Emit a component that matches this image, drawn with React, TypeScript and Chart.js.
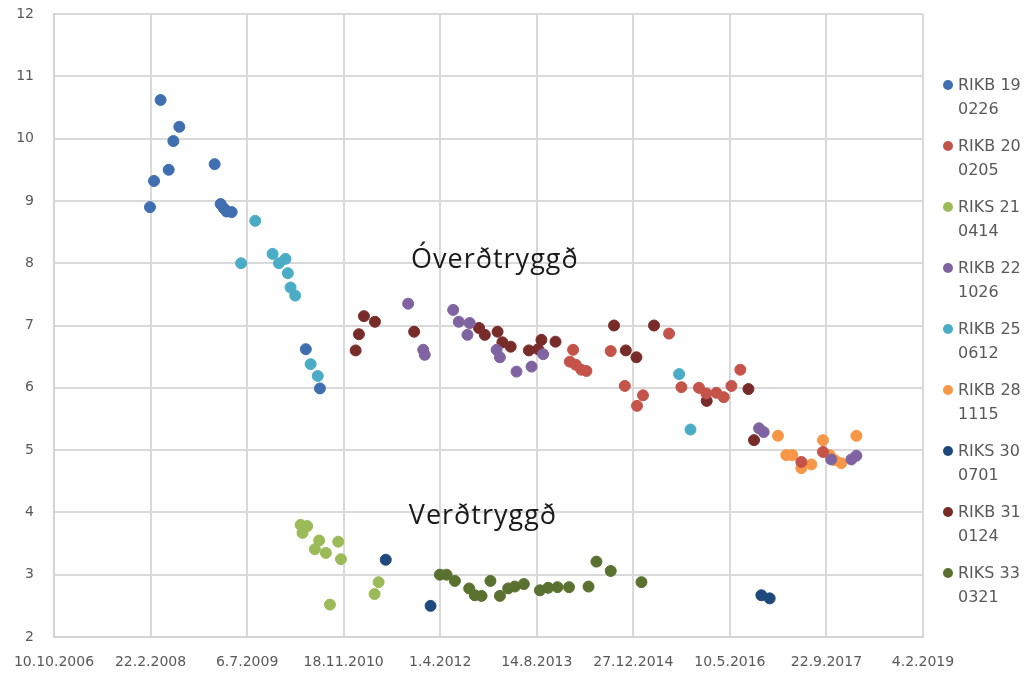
import React, { useEffect, useRef } from "react";
import { Chart, registerables } from "chart.js";

Chart.register(...registerables);

// X values are Excel serial dates (39000 = 10.10.2006)
const xTickLabels = ["10.10.2006", "22.2.2008", "6.7.2009", "18.11.2010", "1.4.2012", "14.8.2013", "27.12.2014", "10.5.2016", "22.9.2017", "4.2.2019"];
const yTicks = [2, 3, 4, 5, 6, 7, 8, 9, 10, 11, 12];

const seriesNames = ["RIKB 19 0226", "RIKB 20 0205", "RIKS 21 0414", "RIKB 22 1026", "RIKB 25 0612", "RIKB 28 1115", "RIKS 30 0701", "RIKB 31 0124", "RIKS 33 0321"];
const seriesColors = ["#3f6fb0", "#c4544a", "#9bbb59", "#8064a2", "#4bacc6", "#f79646", "#1f497d", "#772c2a", "#5a7130"];

const rikb19Dates = [39497, 39518, 39552, 39594, 39618, 39649, 39832, 39863, 39880, 39894, 39920, 40304, 40377];
const rikb19Yields = [8.9, 9.32, 10.62, 9.5, 9.96, 10.19, 9.59, 8.95, 8.88, 8.83, 8.82, 6.62, 5.99];

const rikb20Dates = [41671, 41688, 41702, 41731, 41757, 41883, 41956, 42019, 42050, 42185, 42249, 42340, 42378, 42430, 42468, 42508, 42554, 42870, 42982];
const rikb20Yields = [6.42, 6.61, 6.37, 6.29, 6.27, 6.59, 6.03, 5.71, 5.88, 6.87, 6.01, 6.0, 5.91, 5.92, 5.85, 6.03, 6.29, 4.81, 4.97];

const riks21Dates = [40277, 40287, 40311, 40351, 40373, 40408, 40429, 40472, 40486, 40660, 40681];
const riks21Yields = [3.8, 3.67, 3.78, 3.41, 3.55, 3.35, 2.52, 3.53, 3.25, 2.69, 2.88];

const rikb22Dates = [40834, 40912, 40920, 41067, 41096, 41141, 41153, 41292, 41309, 41395, 41473, 41533, 42651, 42675, 43025, 43129, 43155];
const rikb22Yields = [7.35, 6.61, 6.53, 7.25, 7.06, 6.85, 7.04, 6.61, 6.49, 6.26, 6.34, 6.54, 5.35, 5.29, 4.85, 4.85, 4.91];

const rikb25Dates = [39969, 40042, 40132, 40165, 40199, 40211, 40225, 40249, 40329, 40366, 42237, 42296];
const rikb25Yields = [8.0, 8.68, 8.15, 8.0, 8.07, 7.84, 7.61, 7.48, 6.38, 6.19, 6.22, 5.33];

const rikb28Dates = [42749, 42792, 42823, 42870, 42922, 42982, 43017, 43043, 43077, 43155];
const rikb28Yields = [5.23, 4.92, 4.92, 4.71, 4.77, 5.16, 4.92, 4.84, 4.79, 5.23];

const riks30Dates = [40718, 40950, 42663, 42706];
const riks30Yields = [3.24, 2.5, 2.67, 2.62];

const rikb31Dates = [40562, 40579, 40605, 40662, 40865, 41201, 41231, 41297, 41322, 41365, 41459, 41507, 41524, 41597, 41900, 41961, 42016, 42107, 42380, 42596, 42625];
const rikb31Yields = [6.6, 6.86, 7.15, 7.06, 6.9, 6.96, 6.85, 6.9, 6.73, 6.66, 6.6, 6.62, 6.77, 6.74, 7.0, 6.6, 6.49, 7.0, 5.79, 5.98, 5.16];

const riks33Dates = [40998, 41033, 41076, 41150, 41179, 41214, 41260, 41309, 41352, 41386, 41433, 41516, 41559, 41607, 41667, 41768, 41809, 41883, 42042];
const riks33Yields = [3.0, 3.0, 2.9, 2.78, 2.67, 2.66, 2.9, 2.66, 2.78, 2.81, 2.85, 2.75, 2.79, 2.8, 2.8, 2.81, 3.21, 3.06, 2.88];

const seriesDates = [rikb19Dates, rikb20Dates, riks21Dates, rikb22Dates, rikb25Dates, rikb28Dates, riks30Dates, rikb31Dates, riks33Dates];
const seriesYields = [rikb19Yields, rikb20Yields, riks21Yields, rikb22Yields, rikb25Yields, rikb28Yields, riks30Yields, rikb31Yields, riks33Yields];

const annotationTexts = ["Óverðtryggð", "Verðtryggð"];
const annotationDates = [41283, 41221];
const annotationYields = [8.05, 3.93];

const annotationPlugin = {
  id: "textAnnotations",
  afterDatasetsDraw(chart: any) {
    const { ctx, scales } = chart;
    ctx.save();
    ctx.font = "27px 'Open Sans'";
    try { (ctx as any).letterSpacing = "1px"; } catch (e) {}
    ctx.fillStyle = "#1a1a1a";
    ctx.textAlign = "center";
    ctx.textBaseline = "middle";
    annotationTexts.forEach((t, i) => {
      ctx.fillText(t, scales.x.getPixelForValue(annotationDates[i]), scales.y.getPixelForValue(annotationYields[i]));
    });
    ctx.restore();
  },
};

const zeroPad = (s: any) => {
  s.paddingTop = 0;
  s.paddingBottom = 0;
  s.paddingLeft = 0;
  s.paddingRight = 0;
};

export default function App() {
  const ref = useRef<HTMLCanvasElement>(null);
  useEffect(() => {
    if (!ref.current) return;
    const datasets = seriesNames.map((name, i) => ({
      label: name,
      data: seriesDates[i].map((d, j) => ({ x: d, y: seriesYields[i][j] })),
      backgroundColor: seriesColors[i],
      borderColor: seriesColors[i],
      pointRadius: 5.5,
      pointHoverRadius: 5.5,
      showLine: false,
    }));
    const chart = new Chart(ref.current, {
      type: "scatter",
      data: { datasets },
      options: {
        animation: false,
        responsive: false,
        maintainAspectRatio: false,
        layout: { padding: { left: 0, top: 14, right: 104, bottom: 0 } },
        plugins: { legend: { display: false }, tooltip: { enabled: false } },
        scales: {
          x: {
            type: "linear",
            min: 39000,
            max: 43500,
            afterFit: (s: any) => { s.height = 38; zeroPad(s); },
            ticks: {
              stepSize: 500,
              callback: (_v: any, i: number) => xTickLabels[i],
              font: { family: "'DejaVu Sans'", size: 14 },
              color: "#595959",
              padding: 17,
              maxRotation: 0,
              autoSkip: false,
            },
            grid: { color: "#d9d9d9", lineWidth: 2, drawTicks: false },
            border: { color: "#d4d4d4", width: 2 },
          },
          y: {
            min: yTicks[0],
            max: yTicks[yTicks.length - 1],
            afterFit: (s: any) => { s.width = 54; zeroPad(s); },
            ticks: {
              stepSize: 1,
              font: { family: "'DejaVu Sans'", size: 14 },
              color: "#595959",
              padding: 20,
            },
            grid: { color: "#d9d9d9", lineWidth: 2, drawTicks: false },
            border: { color: "#d4d4d4", width: 2 },
          },
        },
      },
      plugins: [annotationPlugin],
    });
    return () => chart.destroy();
  }, []);

  return (
    <div style={{ position: "fixed", left: 0, top: 0, width: 1027, height: 675, background: "#fff" }}>
      <canvas ref={ref} width={1027} height={675} style={{ position: "absolute", left: 0, top: 0 }} />
      <div style={{ position: "absolute", left: 943, top: 73, fontFamily: "'DejaVu Sans'", fontSize: 16, color: "#595959" }}>
        {seriesNames.map((name, i) => {
          const parts = name.split(" ");
          return (
            <div key={name} style={{ height: 61, position: "relative" }}>
              <span style={{ position: "absolute", left: 0, top: 7, width: 10, height: 10, borderRadius: 5, background: seriesColors[i] }} />
              <div style={{ position: "absolute", left: 15, top: 0, lineHeight: "24px", whiteSpace: "nowrap" }}>
                {parts[0] + " " + parts[1]}
                <br />
                {parts[2]}
              </div>
            </div>
          );
        })}
      </div>
    </div>
  );
}
